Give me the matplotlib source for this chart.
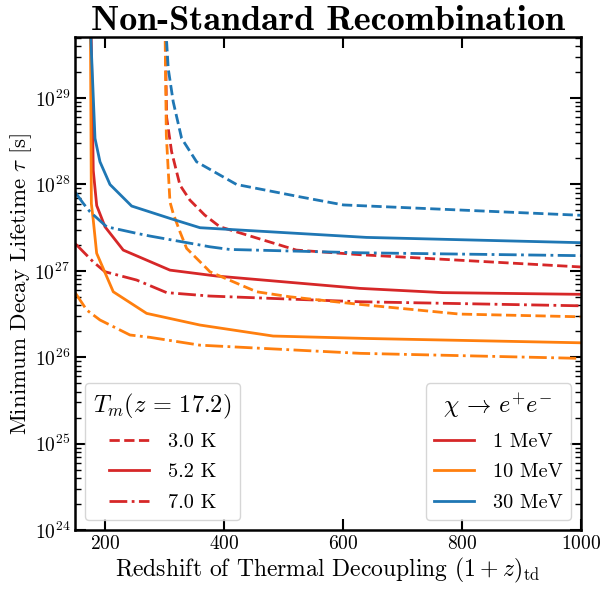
import matplotlib
matplotlib.use("Agg")
import matplotlib.pyplot as plt
from matplotlib.lines import Line2D
from matplotlib.ticker import LogLocator, NullLocator, FixedLocator

plt.rcParams['font.family'] = 'serif'
plt.rcParams['font.serif'] = ['cmr10']
plt.rcParams['mathtext.fontset'] = 'cm'
plt.rcParams['axes.formatter.use_mathtext'] = True
plt.rcParams['axes.unicode_minus'] = False

# ---------------- data ----------------
# 1 MeV (red)
x_1MeV_3K = [301.2, 304.0, 312.4, 326.4, 343.1, 368.0, 393.5, 522.0, 629.0, 1000.0]
t_1MeV_3K = [1e30, 6e28, 2.39e28, 9.84e27, 6.6e27, 4.43e27, 3.24e27, 1.74e27, 1.54e27, 1.11e27]
x_1MeV_52K = [176.6, 180.7, 183.6, 186.5, 200.4, 231.1, 309.6, 388.0, 629.0, 768.0, 1000.0]
t_1MeV_52K = [1e30, 1.45e28, 9.08e27, 5.7e27, 3.24e27, 1.74e27, 1.02e27, 8.71e26, 6.27e26, 5.6e26, 5.35e26]
x_1MeV_7K = [150.0, 152.9, 180.7, 200.4, 253.6, 304.0, 376.7, 629.0, 1000.0]
t_1MeV_7K = [2.05e27, 1.99e27, 1.27e27, 9.77e26, 7.83e26, 5.6e26, 5.11e26, 4.39e26, 3.94e26]

# 10 MeV (orange)
x_10MeV_3K = [301.0, 303.5, 309.6, 315.1, 326.4, 337.6, 371.2, 376.7, 455.2, 511.1, 628.7, 796.6, 1000.0]
t_10MeV_3K = [1e30, 3.73e28, 6.3e27, 4.6e27, 2.84e27, 1.82e27, 1.07e27, 9.77e26, 5.73e26, 5.01e26, 4.09e26, 3.16e26, 2.94e26]
x_10MeV_52K = [175.8, 177.5, 180.7, 186.4, 214.3, 270.4, 360.0, 483.0, 640.0, 1000.0]
t_10MeV_52K = [1e30, 6e27, 3.87e27, 1.6e27, 5.73e26, 3.22e26, 2.36e26, 1.76e26, 1.65e26, 1.47e26]
x_10MeV_7K = [150.0, 152.9, 169.7, 192.0, 242.4, 276.0, 360.0, 522.0, 629.0, 1000.0]
t_10MeV_7K = [5.6e26, 5.25e26, 3.52e26, 2.7e26, 1.81e26, 1.7e26, 1.38e26, 1.21e26, 1.11e26, 9.7e25]

# 30 MeV (blue)
x_30MeV_3K = [301.0, 306.7, 315.1, 329.2, 354.4, 421.6, 527.9, 601.0, 1000.0]
t_30MeV_3K = [1e30, 2.2e29, 9.06e28, 3.42e28, 1.83e28, 1.0e28, 7.2e27, 5.8e27, 4.4e27]
x_30MeV_52K = [175.8, 176.6, 183.6, 192.0, 208.8, 245.2, 309.6, 360.0, 640.0, 1000.0]
t_30MeV_52K = [1e30, 5e29, 3.42e28, 1.83e28, 1.0e28, 5.63e27, 4.05e27, 3.16e27, 2.44e27, 2.12e27]
x_30MeV_7K = [150.0, 163.9, 175.2, 203.2, 253.6, 276.0, 376.7, 410.0, 629.0, 1000.0]
t_30MeV_7K = [8.2e27, 6.04e27, 4.83e27, 3.24e27, 2.72e27, 2.53e27, 1.9e27, 1.77e27, 1.62e27, 1.5e27]

masses = ['1 MeV', '10 MeV', '30 MeV']
temps = ['3.0 K', '5.2 K', '7.0 K']
colors = ['#d62728', '#ff7f0e', '#1f77b4']
styles = ['--', '-', '-.']

series = {
    ('1 MeV', '3.0 K'): (x_1MeV_3K, t_1MeV_3K),
    ('1 MeV', '5.2 K'): (x_1MeV_52K, t_1MeV_52K),
    ('1 MeV', '7.0 K'): (x_1MeV_7K, t_1MeV_7K),
    ('10 MeV', '3.0 K'): (x_10MeV_3K, t_10MeV_3K),
    ('10 MeV', '5.2 K'): (x_10MeV_52K, t_10MeV_52K),
    ('10 MeV', '7.0 K'): (x_10MeV_7K, t_10MeV_7K),
    ('30 MeV', '3.0 K'): (x_30MeV_3K, t_30MeV_3K),
    ('30 MeV', '5.2 K'): (x_30MeV_52K, t_30MeV_52K),
    ('30 MeV', '7.0 K'): (x_30MeV_7K, t_30MeV_7K),
}

fig = plt.figure(figsize=(6.03, 5.90), dpi=100)
ax = fig.add_axes([75/603, 1-530/590, (580.7-75)/603, (530-37)/590])

for m, c in zip(masses, colors):
    for tt, ls in zip(temps, styles):
        xs, ys = series[(m, tt)]
        ax.plot(xs, ys, color=c, ls=ls, lw=2)

ax.set_yscale('log')
ax.set_xlim(150, 1000)
ax.set_ylim(1e24, 5.1e29)
ax.xaxis.set_major_locator(FixedLocator([200, 400, 600, 800, 1000]))
ax.xaxis.set_minor_locator(NullLocator())
ax.yaxis.set_major_locator(LogLocator(base=10, numticks=20))
ax.yaxis.set_minor_locator(LogLocator(base=10, subs=range(2, 10), numticks=20))

ax.tick_params(which='both', direction='in', top=True, right=True, labelsize=14)
ax.tick_params(which='major', length=8, width=1.5)
ax.tick_params(which='minor', length=4, width=1.0)
for sp in ax.spines.values():
    sp.set_linewidth(1.8)

ax.set_xlabel(r'Redshift of Thermal Decoupling $(1+z)_{\rm td}$', fontsize=17, labelpad=2)
ax.set_ylabel(r'Minimum Decay Lifetime $\tau$ [s]', fontsize=16.5, labelpad=0)
ax.set_title('Non-Standard Recombination', fontsize=26, fontfamily='cmb10', pad=5)

h_t = [Line2D([], [], color=colors[0], ls=ls, lw=2) for ls in styles]
leg1 = ax.legend(h_t, temps, loc='lower left', fontsize=14.6,
                 title=r'$T_m(z\,=\,17.2)$', title_fontsize=17.5,
                 labelspacing=0.6, handletextpad=0.9)
ax.add_artist(leg1)
h_m = [Line2D([], [], color=c, ls='-', lw=2) for c in colors]
ax.legend(h_m, masses, loc='lower right', fontsize=14.6,
          title=r'$\chi\,\rightarrow\,e^{+}e^{-}$', title_fontsize=17.5,
          labelspacing=0.6, handletextpad=0.9)

fig.savefig('out.png', dpi=100)
